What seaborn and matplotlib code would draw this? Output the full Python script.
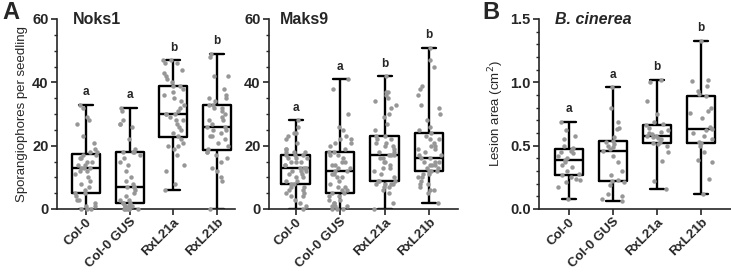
import numpy as np
import pandas as pd
import seaborn as sns
import matplotlib.pyplot as plt
from matplotlib.ticker import MultipleLocator, FormatStrFormatter

# --------------------------------------
# Data
# --------------------------------------
genotypes = ["Col-0", "Col-0 GUS", "RxL21a", "RxL21b"]

# Noks1 sporangiophores per seedling
noks1_col0 = [0, 0, 0, 1, 1, 2, 3, 3, 4, 5, 5, 6, 7, 8, 9, 10, 11, 12, 12, 13,
              13, 13, 14, 14, 15, 15, 16, 16, 17, 17, 18, 18, 19, 21, 23, 27, 28, 29, 32, 33]
noks1_gus = [0, 0, 0, 0, 0, 0, 1, 1, 1, 1, 2, 2, 2, 3, 3, 4, 5, 6, 7, 7,
             7, 8, 9, 10, 12, 14, 15, 16, 17, 18, 18, 18, 19, 22, 26, 27, 27, 28, 31, 32]
noks1_a = [6, 8, 12, 14, 17, 19, 20, 20, 21, 22, 23, 24, 25, 26, 27, 28, 28, 29, 30, 30,
           30, 31, 32, 33, 34, 35, 36, 37, 38, 39, 39, 40, 41, 42, 43, 44, 46, 46, 47, 47]
noks1_b = [0, 9, 10, 12, 13, 15, 16, 17, 18, 18, 19, 20, 21, 22, 23, 23, 24, 25, 25, 26,
           26, 27, 28, 28, 29, 30, 31, 32, 32, 33, 33, 34, 35, 35, 36, 38, 42, 42, 48, 49]

# Maks9 sporangiophores per seedling
maks9_col0 = [0, 1, 2, 3, 4, 4, 5, 5, 6, 6, 7, 7, 8, 8, 9, 9, 10, 10, 11, 11, 12, 12, 12, 13, 13,
              13, 14, 14, 15, 15, 15, 16, 16, 16, 17, 17, 17, 18, 18, 18, 19, 19, 21, 22, 23, 24, 24, 26, 28]
maks9_gus = [0, 0, 0, 1, 1, 1, 2, 2, 3, 3, 4, 4, 5, 5, 6, 6, 7, 7, 8, 9, 10, 10, 11, 11, 12,
             12, 13, 13, 14, 14, 15, 15, 16, 17, 17, 18, 18, 19, 20, 21, 21, 22, 22, 23, 25, 26, 30, 38, 41]
maks9_a = [0, 2, 5, 6, 7, 7, 8, 8, 8, 8, 9, 9, 9, 10, 11, 12, 13, 13, 14, 15, 15, 16, 16, 17, 17,
           17, 18, 18, 19, 20, 20, 21, 21, 22, 22, 23, 23, 25, 27, 29, 30, 32, 33, 34, 35, 36, 37, 37, 42]
maks9_b = [2, 5, 6, 6, 7, 8, 8, 9, 10, 10, 11, 11, 12, 12, 12, 13, 13, 14, 14, 14, 15, 15, 15, 16, 16,
           17, 17, 18, 19, 19, 20, 20, 21, 22, 22, 23, 24, 25, 26, 28, 30, 32, 33, 36, 38, 39, 45, 47, 51]

# B. cinerea lesion area (cm2)
bc_col0 = [0.08, 0.17, 0.21, 0.23, 0.24, 0.25, 0.27, 0.28, 0.30, 0.33, 0.35, 0.37, 0.39,
           0.40, 0.42, 0.44, 0.45, 0.46, 0.47, 0.48, 0.50, 0.55, 0.58, 0.62, 0.69]
bc_gus = [0.06, 0.08, 0.10, 0.12, 0.19, 0.21, 0.22, 0.23, 0.27, 0.30, 0.37, 0.42, 0.46,
          0.47, 0.49, 0.50, 0.51, 0.53, 0.54, 0.57, 0.63, 0.64, 0.69, 0.80, 0.96]
bc_a = [0.16, 0.22, 0.38, 0.45, 0.50, 0.51, 0.52, 0.53, 0.55, 0.56, 0.57, 0.58, 0.58,
        0.59, 0.60, 0.61, 0.62, 0.64, 0.66, 0.67, 0.69, 0.75, 0.85, 1.00, 1.02]
bc_b = [0.12, 0.24, 0.37, 0.39, 0.45, 0.50, 0.52, 0.53, 0.55, 0.58, 0.60, 0.62, 0.63,
        0.65, 0.72, 0.76, 0.77, 0.80, 0.89, 0.91, 0.93, 0.97, 1.01, 1.02, 1.33]

noks1_letters = ["a", "a", "b", "b"]
maks9_letters = ["a", "a", "b", "b"]
bc_letters = ["a", "a", "b", "b"]


def long_form(groups):
    rows = []
    for g, vals in zip(genotypes, groups):
        for v in vals:
            rows.append((g, v))
    return pd.DataFrame(rows, columns=["genotype", "value"])


# --------------------------------------
# Style
# --------------------------------------
sns.set_theme(style="ticks")
plt.rcParams["font.family"] = ["Liberation Sans", "DejaVu Sans"]
plt.rcParams["axes.linewidth"] = 1.2
np.random.seed(3)

fig = plt.figure(figsize=(7.31, 2.72), dpi=100)
W, H = 731, 272


def add_ax(left, right):
    return fig.add_axes([left / W, (H - 209) / H, (right - left) / W, 190 / H])


panels = [
    (add_ax(57, 235), long_form([noks1_col0, noks1_gus, noks1_a, noks1_b]), noks1_letters,
     "Noks1", "normal", 60, 20, 5, (-0.66, 3.41), 16, "%d"),
    (add_ax(269, 458), long_form([maks9_col0, maks9_gus, maks9_a, maks9_b]), maks9_letters,
     "Maks9", "normal", 60, 20, 5, (-0.6, 3.65), 11, "%d"),
    (add_ax(539, 731), long_form([bc_col0, bc_gus, bc_a, bc_b]), bc_letters,
     "B. cinerea", "italic", 1.5, 0.5, 0.1, (-0.68, 3.68), 16, "%.1f"),
]

for ax, df, letters, title, tstyle, ymax, major, minor, xlim, tx, fmt in panels:
    sns.boxplot(data=df, x="genotype", y="value", order=genotypes, whis=(0, 100),
                width=0.64, fill=False, color="black", linecolor="black",
                linewidth=1.7, showfliers=False, ax=ax)
    sns.stripplot(data=df, x="genotype", y="value", order=genotypes, color="#979797",
                  size=3.2, jitter=0.26, ax=ax, zorder=3, clip_on=False)
    ax.set_ylim(0, ymax)
    ax.set_xlim(*xlim)
    ax.yaxis.set_major_locator(MultipleLocator(major))
    ax.yaxis.set_minor_locator(MultipleLocator(minor))
    ax.yaxis.set_major_formatter(FormatStrFormatter(fmt))
    ax.tick_params(axis="both", which="major", length=4, width=1.2, labelsize=10.5, pad=2)
    ax.tick_params(axis="x", which="major", pad=1)
    ax.tick_params(axis="y", which="minor", length=2.5, width=1.0)
    for lab in ax.get_yticklabels():
        lab.set_fontweight("bold")
    ax.set_xticks(range(4))
    ax.set_xticklabels(genotypes, rotation=45, ha="right", rotation_mode="anchor",
                       fontsize=9.5, fontweight="bold")
    ax.set_xlabel("")
    ax.set_ylabel("")
    sns.despine(ax=ax)
    # significance letters
    maxes = df.groupby("genotype")["value"].max().reindex(genotypes)
    for i, (m, l) in enumerate(zip(maxes, letters)):
        ax.text(i, m + ymax * 0.065, l, ha="center", va="center",
                fontsize=8.5, fontweight="bold")
    ax.text(tx / (ax.get_position().width * W), 1.0, title, transform=ax.transAxes,
            ha="left", va="center", fontsize=11.5, fontweight="bold", fontstyle=tstyle)

panels[0][0].set_ylabel("Sporangiophores per seedling", fontsize=9.5, labelpad=3)
panels[2][0].set_ylabel("Lesion area (cm$^2$)", fontsize=9.5, labelpad=3)

fig.text(0.003, 0.995, "A", fontsize=17, fontweight="bold", va="top", ha="left")
fig.text(482 / W, 0.995, "B", fontsize=17, fontweight="bold", va="top", ha="left")

plt.savefig("out.png", dpi=100)
